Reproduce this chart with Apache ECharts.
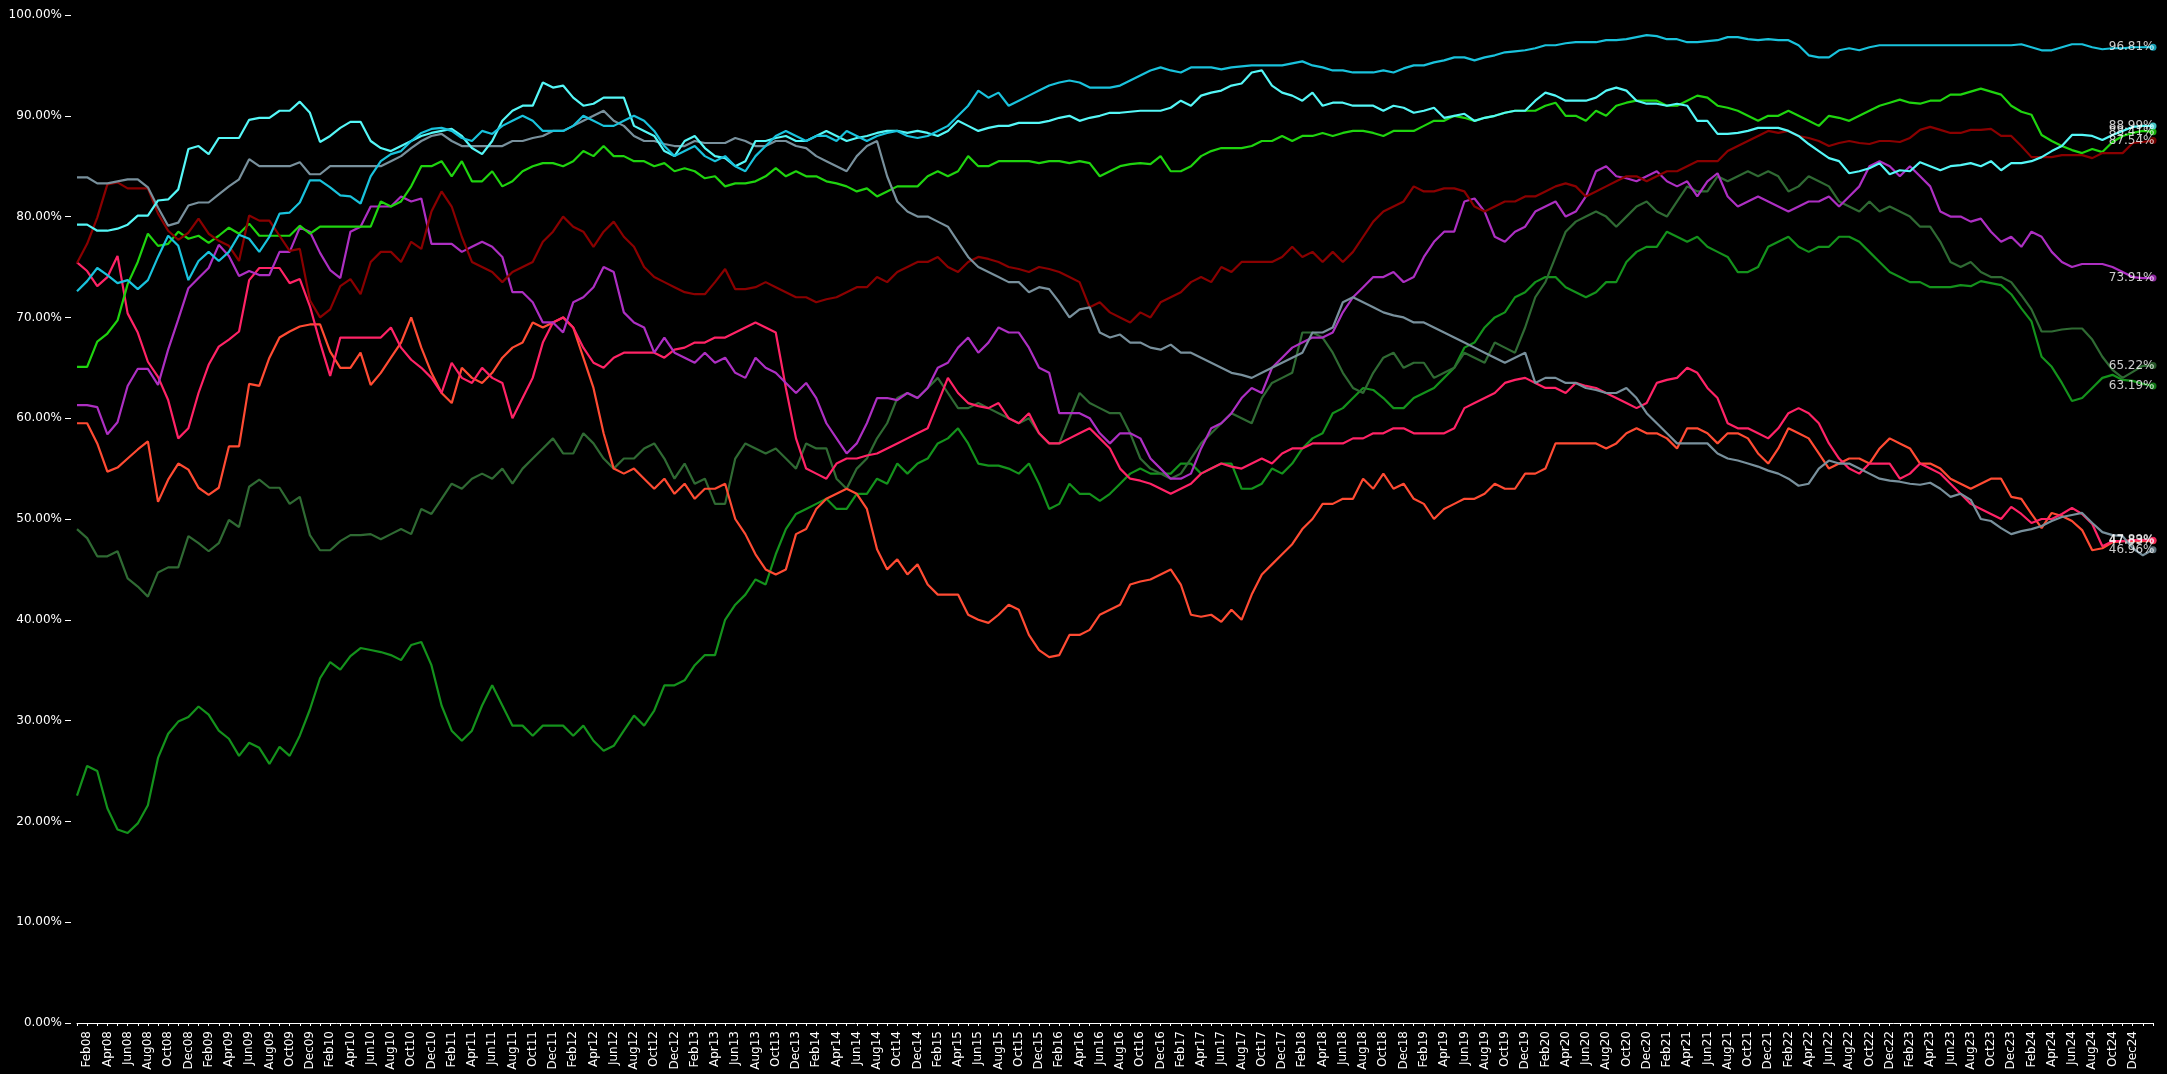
<!DOCTYPE html>
<html>
<head>
<meta charset="utf-8">
<script src="https://cdn.jsdelivr.net/npm/echarts@6/dist/echarts.min.js"></script>
<style>
  html, body { margin: 0; padding: 0; background: #000; }
  #chart { width: 2167px; height: 1074px; }
</style>
</head>
<body>
<div id="chart"></div>
<script>
// Monthly categories Jan08 .. Feb25
const MONTH_NAMES = ['Jan','Feb','Mar','Apr','May','Jun','Jul','Aug','Sep','Oct','Nov','Dec'];
const FIRST_YEAR = 2008;
const MONTH_COUNT = 206;
const categories = [];
for (let i = 0; i < MONTH_COUNT; i++) {
  const yr = FIRST_YEAR + Math.floor(i / 12);
  categories.push(MONTH_NAMES[i % 12] + String(yr).slice(2));
}
const LAST_LABELLED = 'Dec24';

const yTicks = [0, 10, 20, 30, 40, 50, 60, 70, 80, 90, 100];

// Series values (percent)
const cyanDark = [72.6,73.6,74.9,74.2,73.4,73.7,72.8,73.7,76.0,78.1,77.1,73.7,
 75.6,76.5,75.6,76.5,78.2,77.8,76.5,78.0,80.3,80.4,81.4,83.6,
 83.6,82.9,82.1,82.0,81.3,84.0,85.5,86.2,86.5,87.5,88.3,88.7,
 88.8,88.5,87.8,87.5,88.5,88.2,89.0,89.5,90.0,89.5,88.5,88.5,
 88.5,89.0,90.0,89.5,89.0,89.0,89.5,90.0,89.5,88.5,87.0,86.0,
 86.5,87.0,86.0,85.5,86.0,85.0,84.5,86.0,87.0,88.0,88.5,88.0,
 87.5,88.0,88.0,87.5,88.5,88.0,87.5,88.0,88.3,88.5,88.0,87.8,
 88.0,88.5,89.0,90.0,91.0,92.5,91.8,92.3,91.0,91.5,92.0,92.5,
 93.0,93.3,93.5,93.3,92.8,92.8,92.8,93.0,93.5,94.0,94.5,94.8,
 94.5,94.3,94.8,94.8,94.8,94.6,94.8,94.9,95.0,95.0,95.0,95.0,
 95.2,95.4,95.0,94.8,94.5,94.5,94.3,94.3,94.3,94.5,94.3,94.7,
 95.0,95.0,95.3,95.5,95.8,95.8,95.5,95.8,96.0,96.3,96.4,96.5,
 96.7,97.0,97.0,97.2,97.3,97.3,97.3,97.5,97.5,97.6,97.8,98.0,
 97.9,97.6,97.6,97.3,97.3,97.4,97.5,97.8,97.8,97.6,97.5,97.6,
 97.5,97.5,97.0,96.0,95.8,95.8,96.5,96.7,96.5,96.8,97.0,97.0,
 97.0,97.0,97.0,97.0,97.0,97.0,97.0,97.0,97.0,97.0,97.0,97.0,
 97.1,96.8,96.5,96.5,96.8,97.1,97.1,96.8,96.6,96.7,96.7,96.8,
 96.8,96.81];

const aqua = [79.2,79.2,78.6,78.6,78.8,79.2,80.1,80.1,81.6,81.7,82.7,86.7,
 87.0,86.2,87.8,87.8,87.8,89.6,89.8,89.8,90.5,90.5,91.4,90.3,
 87.4,88.0,88.8,89.4,89.4,87.5,86.8,86.5,87.0,87.5,88.0,88.3,
 88.5,88.7,88.0,86.8,86.2,87.5,89.5,90.5,91.0,91.0,93.3,92.8,
 93.0,91.8,91.0,91.2,91.8,91.8,91.8,89.0,88.5,88.0,86.5,86.0,
 87.5,88.0,86.8,86.0,85.8,85.0,85.5,87.5,87.5,87.8,88.0,87.5,
 87.5,88.0,88.5,88.0,87.5,87.8,88.0,88.3,88.5,88.5,88.3,88.5,
 88.3,88.0,88.5,89.5,89.0,88.5,88.8,89.0,89.0,89.3,89.3,89.3,
 89.5,89.8,90.0,89.5,89.8,90.0,90.3,90.3,90.4,90.5,90.5,90.5,
 90.8,91.5,91.0,92.0,92.3,92.5,93.0,93.2,94.3,94.5,93.0,92.3,
 92.0,91.5,92.3,91.0,91.3,91.3,91.0,91.0,91.0,90.5,91.0,90.8,
 90.3,90.5,90.8,89.8,90.0,90.2,89.5,89.8,90.0,90.3,90.5,90.5,
 91.5,92.3,92.0,91.5,91.5,91.5,91.8,92.5,92.8,92.5,91.5,91.2,
 91.2,91.0,91.2,91.0,89.5,89.5,88.2,88.2,88.3,88.5,88.8,88.8,
 88.8,88.5,88.0,87.2,86.5,85.8,85.5,84.3,84.5,84.8,85.3,84.2,
 84.6,84.5,85.4,85.0,84.6,85.0,85.1,85.3,85.0,85.5,84.6,85.3,
 85.3,85.5,85.9,86.5,87.0,88.1,88.1,88.0,87.6,88.1,88.5,88.9,
 89.0,88.99];

const slate = [83.9,83.9,83.3,83.3,83.5,83.7,83.7,82.9,80.9,79.1,79.4,81.1,
 81.4,81.4,82.2,83.0,83.7,85.7,85.0,85.0,85.0,85.0,85.4,84.2,
 84.2,85.0,85.0,85.0,85.0,85.0,85.0,85.5,86.0,86.8,87.5,88.0,
 88.2,87.5,87.0,87.0,87.0,87.0,87.0,87.5,87.5,87.8,88.0,88.5,
 88.5,89.0,89.5,90.0,90.5,89.5,89.0,88.0,87.5,87.5,87.2,87.0,
 87.0,87.5,87.3,87.3,87.3,87.8,87.5,87.0,87.0,87.5,87.5,87.0,
 86.8,86.0,85.5,85.0,84.5,86.0,87.0,87.5,84.0,81.5,80.5,80.0,
 80.0,79.5,79.0,77.5,76.0,75.0,74.5,74.0,73.5,73.5,72.5,73.0,
 72.8,71.5,70.0,70.8,71.0,68.5,68.0,68.3,67.5,67.5,67.0,66.8,
 67.3,66.5,66.5,66.0,65.5,65.0,64.5,64.3,64.0,64.5,65.0,65.5,
 66.0,66.5,68.5,68.5,69.0,71.5,72.0,71.5,71.0,70.5,70.2,70.0,
 69.5,69.5,69.0,68.5,68.0,67.5,67.0,66.5,66.0,65.5,66.0,66.5,
 63.5,64.0,64.0,63.5,63.5,63.0,62.8,62.5,62.5,63.0,62.0,60.5,
 59.5,58.5,57.5,57.5,57.5,57.5,56.5,56.0,55.8,55.5,55.2,54.8,
 54.5,54.0,53.3,53.5,55.0,55.8,55.5,55.5,55.0,54.5,54.0,53.8,
 53.7,53.5,53.4,53.6,53.0,52.2,52.5,51.9,50.0,49.8,49.1,48.5,
 48.8,49.0,49.3,49.8,50.2,50.4,50.6,49.6,48.7,48.4,48.3,47.1,
 46.4,46.96];

const maroon = [75.4,77.3,79.9,83.2,83.4,82.8,82.8,82.8,80.3,78.6,77.7,78.4,
 79.8,78.3,77.6,77.1,75.6,80.1,79.6,79.6,78.1,76.6,76.8,71.7,
 70.0,70.8,73.1,73.8,72.3,75.5,76.5,76.5,75.5,77.5,76.8,80.5,
 82.5,81.0,78.0,75.5,75.0,74.5,73.5,74.5,75.0,75.5,77.5,78.5,
 80.0,79.0,78.5,77.0,78.5,79.5,78.0,77.0,75.0,74.0,73.5,73.0,
 72.5,72.3,72.3,73.5,74.8,72.8,72.8,73.0,73.5,73.0,72.5,72.0,
 72.0,71.5,71.8,72.0,72.5,73.0,73.0,74.0,73.5,74.5,75.0,75.5,
 75.5,76.0,75.0,74.5,75.5,76.0,75.8,75.5,75.0,74.8,74.5,75.0,
 74.8,74.5,74.0,73.5,71.0,71.5,70.5,70.0,69.5,70.5,70.0,71.5,
 72.0,72.5,73.5,74.0,73.5,75.0,74.5,75.5,75.5,75.5,75.5,76.0,
 77.0,76.0,76.5,75.5,76.5,75.5,76.5,78.0,79.5,80.5,81.0,81.5,
 83.0,82.5,82.5,82.8,82.8,82.5,81.0,80.5,81.0,81.5,81.5,82.0,
 82.0,82.5,83.0,83.3,83.0,82.0,82.5,83.0,83.5,84.0,84.0,83.5,
 84.0,84.5,84.5,85.0,85.5,85.5,85.5,86.5,87.0,87.5,88.0,88.5,
 88.3,88.5,88.0,87.8,87.5,87.0,87.3,87.5,87.3,87.2,87.5,87.5,
 87.4,87.8,88.6,88.9,88.6,88.3,88.3,88.6,88.6,88.7,88.0,88.0,
 87.0,85.9,85.9,85.9,86.1,86.1,86.1,85.8,86.3,86.3,86.3,87.3,
 87.4,87.54];

const lime = [65.1,65.1,67.6,68.4,69.7,73.3,75.5,78.3,77.1,77.3,78.5,77.8,
 78.1,77.4,78.1,78.9,78.3,79.3,78.1,78.1,78.1,78.1,79.1,78.3,
 79.0,79.0,79.0,79.0,79.0,79.0,81.5,81.0,81.5,83.0,85.0,85.0,
 85.5,84.0,85.5,83.5,83.5,84.5,83.0,83.5,84.5,85.0,85.3,85.3,
 85.0,85.5,86.5,86.0,87.0,86.0,86.0,85.5,85.5,85.0,85.3,84.5,
 84.8,84.5,83.8,84.0,83.0,83.3,83.3,83.5,84.0,84.8,84.0,84.5,
 84.0,84.0,83.5,83.3,83.0,82.5,82.8,82.0,82.5,83.0,83.0,83.0,
 84.0,84.5,84.0,84.5,86.0,85.0,85.0,85.5,85.5,85.5,85.5,85.3,
 85.5,85.5,85.3,85.5,85.3,84.0,84.5,85.0,85.2,85.3,85.2,86.0,
 84.5,84.5,85.0,86.0,86.5,86.8,86.8,86.8,87.0,87.5,87.5,88.0,
 87.5,88.0,88.0,88.3,88.0,88.3,88.5,88.5,88.3,88.0,88.5,88.5,
 88.5,89.0,89.5,89.5,90.0,89.8,89.5,89.8,90.0,90.3,90.5,90.5,
 90.5,91.0,91.3,90.0,90.0,89.5,90.5,90.0,91.0,91.3,91.5,91.5,
 91.5,91.0,91.0,91.5,92.0,91.8,91.0,90.8,90.5,90.0,89.5,90.0,
 90.0,90.5,90.0,89.5,89.0,90.0,89.8,89.5,90.0,90.5,91.0,91.3,
 91.6,91.3,91.2,91.5,91.5,92.1,92.1,92.4,92.7,92.4,92.1,91.0,
 90.4,90.1,88.1,87.5,87.0,86.6,86.3,86.7,86.4,87.4,88.0,88.3,
 88.5,88.41];

const violet = [61.3,61.3,61.1,58.4,59.6,63.2,64.9,64.9,63.3,66.8,69.8,72.9,
 73.9,74.9,77.2,76.1,74.1,74.6,74.2,74.2,76.5,76.5,78.9,78.5,
 76.4,74.7,73.9,78.5,79.0,81.0,81.0,81.0,82.0,81.5,81.8,77.3,
 77.3,77.3,76.5,77.0,77.5,77.0,76.0,72.5,72.5,71.5,69.5,69.5,
 68.5,71.5,72.0,73.0,75.0,74.5,70.5,69.5,69.0,66.5,68.0,66.5,
 66.0,65.5,66.5,65.5,66.0,64.5,64.0,66.0,65.0,64.5,63.5,62.5,
 63.5,62.0,59.5,58.0,56.5,57.5,59.5,62.0,62.0,61.8,62.5,62.0,
 63.0,65.0,65.5,67.0,68.0,66.5,67.5,69.0,68.5,68.5,67.0,65.0,
 64.5,60.5,60.5,60.5,60.0,58.5,57.5,58.5,58.5,58.0,56.0,55.0,
 54.0,54.0,54.5,57.0,59.0,59.5,60.5,62.0,63.0,62.5,65.0,66.0,
 67.0,67.5,68.0,68.0,68.5,70.5,72.0,73.0,74.0,74.0,74.5,73.5,
 74.0,76.0,77.5,78.5,78.5,81.5,81.8,80.5,78.0,77.5,78.5,79.0,
 80.5,81.0,81.5,80.0,80.5,82.0,84.5,85.0,84.0,83.8,83.5,84.0,
 84.5,83.5,83.0,83.5,82.0,83.5,84.3,82.0,81.0,81.5,82.0,81.5,
 81.0,80.5,81.0,81.5,81.5,82.0,81.0,82.0,83.0,85.0,85.5,85.0,
 84.0,85.0,84.0,83.0,80.5,80.0,80.0,79.5,79.8,78.5,77.5,78.0,
 77.0,78.5,78.0,76.5,75.5,75.0,75.3,75.3,75.3,75.0,74.5,74.0,
 73.9,73.91];

const rose = [75.45,74.6,73.1,74.0,76.1,70.4,68.5,65.6,64.1,61.8,58.0,59.0,
 62.5,65.3,67.1,67.8,68.6,73.7,74.9,74.9,74.9,73.4,73.8,71.1,
 67.5,64.2,68.0,68.0,68.0,68.0,68.0,69.0,67.0,65.8,65.0,64.0,
 62.5,65.5,64.0,63.5,65.0,64.0,63.5,60.0,62.0,64.0,67.5,69.5,
 70.0,69.0,67.0,65.5,65.0,66.0,66.5,66.5,66.5,66.5,66.0,66.8,
 67.0,67.5,67.5,68.0,68.0,68.5,69.0,69.5,69.0,68.5,63.0,58.0,
 55.0,54.5,54.0,55.5,56.0,56.0,56.3,56.5,57.0,57.5,58.0,58.5,
 59.0,61.5,64.0,62.5,61.5,61.2,61.0,61.5,60.0,59.5,60.5,58.5,
 57.5,57.5,58.0,58.5,59.0,58.0,57.0,55.0,54.0,53.8,53.5,53.0,
 52.5,53.0,53.5,54.5,55.0,55.5,55.2,55.0,55.5,56.0,55.5,56.5,
 57.0,57.0,57.5,57.5,57.5,57.5,58.0,58.0,58.5,58.5,59.0,59.0,
 58.5,58.5,58.5,58.5,59.0,61.0,61.5,62.0,62.5,63.5,63.8,64.0,
 63.5,63.0,63.0,62.5,63.5,63.2,63.0,62.5,62.0,61.5,61.0,61.5,
 63.5,63.8,64.0,65.0,64.5,63.0,62.0,59.5,59.0,59.0,58.5,58.0,
 59.0,60.5,61.0,60.5,59.5,57.5,56.0,55.0,54.5,55.5,55.5,55.5,
 54.0,54.5,55.5,55.0,54.5,53.5,52.5,51.5,51.0,50.5,50.0,51.2,
 50.5,49.6,50.0,50.0,50.5,51.1,50.5,49.5,47.3,47.8,47.8,47.9,
 47.9,47.89];

const coral = [59.5,59.5,57.5,54.7,55.1,56.0,56.9,57.7,51.7,53.9,55.5,54.9,
 53.1,52.4,53.1,57.2,57.2,63.4,63.2,66.0,68.0,68.6,69.1,69.3,
 69.3,66.6,65.0,65.0,66.5,63.3,64.5,66.0,67.5,70.0,67.0,64.5,
 62.5,61.5,65.0,64.0,63.5,64.5,66.0,67.0,67.5,69.5,69.0,69.5,
 70.0,69.0,66.0,63.0,58.5,55.0,54.5,55.0,54.0,53.0,54.0,52.5,
 53.5,52.0,53.0,53.0,53.5,50.0,48.5,46.5,45.0,44.5,45.0,48.5,
 49.0,51.0,52.0,52.5,53.0,52.5,51.0,47.0,45.0,46.0,44.5,45.5,
 43.5,42.5,42.5,42.5,40.5,40.0,39.7,40.5,41.5,41.0,38.5,37.0,
 36.3,36.5,38.5,38.5,39.0,40.5,41.0,41.5,43.5,43.8,44.0,44.5,
 45.0,43.5,40.5,40.3,40.5,39.8,41.0,40.0,42.5,44.5,45.5,46.5,
 47.5,49.0,50.0,51.5,51.5,52.0,52.0,54.0,53.0,54.5,53.0,53.5,
 52.0,51.5,50.0,51.0,51.5,52.0,52.0,52.5,53.5,53.0,53.0,54.5,
 54.5,55.0,57.5,57.5,57.5,57.5,57.5,57.0,57.5,58.5,59.0,58.5,
 58.5,58.0,57.0,59.0,59.0,58.5,57.5,58.5,58.5,58.0,56.5,55.5,
 57.0,59.0,58.5,58.0,56.5,55.0,55.5,56.0,56.0,55.5,57.0,58.0,
 57.5,57.0,55.5,55.5,55.0,54.0,53.5,53.0,53.5,54.0,54.0,52.2,
 52.0,50.5,49.1,50.6,50.3,49.8,48.9,46.9,47.1,47.7,47.8,47.8,
 47.8,47.83];

const forest = [49.0,48.1,46.3,46.3,46.8,44.1,43.3,42.3,44.7,45.2,45.2,48.3,
 47.6,46.8,47.6,49.9,49.2,53.2,53.9,53.1,53.1,51.5,52.2,48.4,
 46.9,46.9,47.8,48.4,48.4,48.5,48.0,48.5,49.0,48.5,51.0,50.5,
 52.0,53.5,53.0,54.0,54.5,54.0,55.0,53.5,55.0,56.0,57.0,58.0,
 56.5,56.5,58.5,57.5,56.0,55.0,56.0,56.0,57.0,57.5,56.0,54.0,
 55.5,53.5,54.0,51.5,51.5,56.0,57.5,57.0,56.5,57.0,56.0,55.0,
 57.5,57.0,57.0,54.0,53.0,55.0,56.0,58.0,59.5,62.0,62.5,62.0,
 63.0,64.0,62.5,61.0,61.0,61.5,61.0,60.5,60.0,59.5,60.0,58.5,
 57.5,57.5,60.0,62.5,61.5,61.0,60.5,60.5,58.5,56.0,55.0,54.5,
 54.0,54.5,56.0,57.5,58.5,59.5,60.5,60.0,59.5,62.0,63.5,64.0,
 64.5,68.5,68.5,68.0,66.5,64.5,63.0,62.5,64.5,66.0,66.5,65.0,
 65.5,65.5,64.0,64.5,65.0,66.5,66.0,65.5,67.5,67.0,66.5,69.0,
 72.0,73.5,76.0,78.5,79.5,80.0,80.5,80.0,79.0,80.0,81.0,81.5,
 80.5,80.0,81.5,83.0,82.5,82.5,84.0,83.5,84.0,84.5,84.0,84.5,
 84.0,82.5,83.0,84.0,83.5,83.0,81.5,81.0,80.5,81.5,80.5,81.0,
 80.5,80.0,79.0,79.0,77.5,75.5,75.0,75.5,74.5,74.0,74.0,73.5,
 72.2,70.8,68.6,68.6,68.8,68.9,68.9,67.8,66.1,64.8,64.0,64.6,
 65.2,65.22];

const green = [22.55,25.5,25.0,21.3,19.2,18.85,19.8,21.6,26.3,28.7,29.9,30.35,
 31.4,30.6,29.0,28.2,26.5,27.8,27.3,25.7,27.4,26.5,28.5,31.1,
 34.2,35.8,35.05,36.4,37.2,37.0,36.8,36.5,36.0,37.5,37.8,35.5,
 31.5,29.0,28.0,29.0,31.5,33.5,31.5,29.5,29.5,28.5,29.5,29.5,
 29.5,28.5,29.5,28.0,27.0,27.5,29.0,30.5,29.5,31.0,33.5,33.5,
 34.0,35.5,36.5,36.5,40.0,41.5,42.5,44.0,43.5,46.5,49.0,50.5,
 51.0,51.5,52.0,51.0,51.0,52.5,52.5,54.0,53.5,55.5,54.5,55.5,
 56.0,57.5,58.0,59.0,57.5,55.5,55.3,55.3,55.0,54.5,55.5,53.5,
 51.0,51.5,53.5,52.5,52.5,51.8,52.5,53.5,54.5,55.0,54.5,54.5,
 54.5,55.5,55.5,54.5,55.0,55.5,55.5,53.0,53.0,53.5,55.0,54.5,
 55.5,57.0,58.0,58.5,60.5,61.0,62.0,63.0,62.8,62.0,61.0,61.0,
 62.0,62.5,63.0,64.0,65.0,67.0,67.5,69.0,70.0,70.5,72.0,72.5,
 73.5,74.0,74.0,73.0,72.5,72.0,72.5,73.5,73.5,75.5,76.5,77.0,
 77.0,78.5,78.0,77.5,78.0,77.0,76.5,76.0,74.5,74.5,75.0,77.0,
 77.5,78.0,77.0,76.5,77.0,77.0,78.0,78.0,77.5,76.5,75.5,74.5,
 74.0,73.5,73.5,73.0,73.0,73.0,73.2,73.1,73.6,73.4,73.2,72.3,
 70.9,69.6,66.1,65.1,63.5,61.7,62.0,63.0,64.0,64.3,63.8,63.7,
 63.4,63.19];

const seriesList = [
  { name: 'green',  color: '#14921c', data: green },
  { name: 'forest', color: '#2f6a33', data: forest },
  { name: 'coral',  color: '#ff4b33', data: coral },
  { name: 'rose',   color: '#ff2366', data: rose },
  { name: 'violet', color: '#ad2fc2', data: violet },
  { name: 'lime',   color: '#1fd40f', data: lime },
  { name: 'maroon', color: '#8a0000', data: maroon },
  { name: 'slate',  color: '#78909c', data: slate },
  { name: 'aqua',   color: '#55f7f7', data: aqua },
  { name: 'cyan',   color: '#19c2dc', data: cyanDark }
];

const FONT = 'DejaVu Sans, Verdana, sans-serif';
const lastIdx = MONTH_COUNT - 1;

const lineSeries = seriesList.map(s => ({
  name: s.name,
  type: 'line',
  data: s.data,
  symbol: 'none',
  smooth: false,
  animation: false,
  lineStyle: { color: s.color, width: 2.2 },
  itemStyle: { color: s.color },
  emphasis: { disabled: true },
  z: 2
}));

// Closing markers with their value labels
const endSeries = {
  type: 'scatter',
  animation: false,
  symbolSize: 7,
  z: 3,
  data: seriesList.map(s => ({
    value: [lastIdx, s.data[lastIdx]],
    itemStyle: { color: s.color }
  })),
  label: {
    show: true,
    position: 'left',
    distance: -5,
    color: '#ffffff',
    textBorderWidth: 0,
    textShadowBlur: 0,
    fontFamily: FONT,
    fontSize: 12,
    formatter: p => p.value[1].toFixed(2) + '%'
  },
  labelLayout: { hideOverlap: false },
  emphasis: { disabled: true }
};

const chart = echarts.init(document.getElementById('chart'), null, { renderer: 'canvas' });
chart.setOption({
  backgroundColor: '#000000',
  animation: false,
  grid: { left: 77, right: 14, top: 15, bottom: 51, containLabel: false },
  xAxis: {
    type: 'category',
    data: categories,
    boundaryGap: false,
    axisLine: { show: true, lineStyle: { color: '#ffffff', width: 1 } },
    axisTick: { show: true, interval: 0, length: 3, lineStyle: { color: '#ffffff' } },
    axisLabel: {
      interval: (i, v) => i % 2 === 1 && i <= categories.indexOf(LAST_LABELLED),
      rotate: 90,
      margin: 8,
      color: '#ffffff',
      fontFamily: FONT,
      fontSize: 12
    },
    splitLine: { show: false }
  },
  yAxis: {
    type: 'value',
    min: yTicks[0],
    max: yTicks[yTicks.length - 1],
    interval: 10,
    offset: 6,
    axisLine: { show: false },
    axisTick: { show: true, length: 6, lineStyle: { color: '#ffffff' } },
    axisLabel: {
      margin: 9,
      color: '#ffffff',
      fontFamily: FONT,
      fontSize: 12,
      formatter: v => v.toFixed(2) + '%'
    },
    splitLine: { show: false }
  },
  series: [...lineSeries, endSeries]
});
</script>
</body>
</html>
